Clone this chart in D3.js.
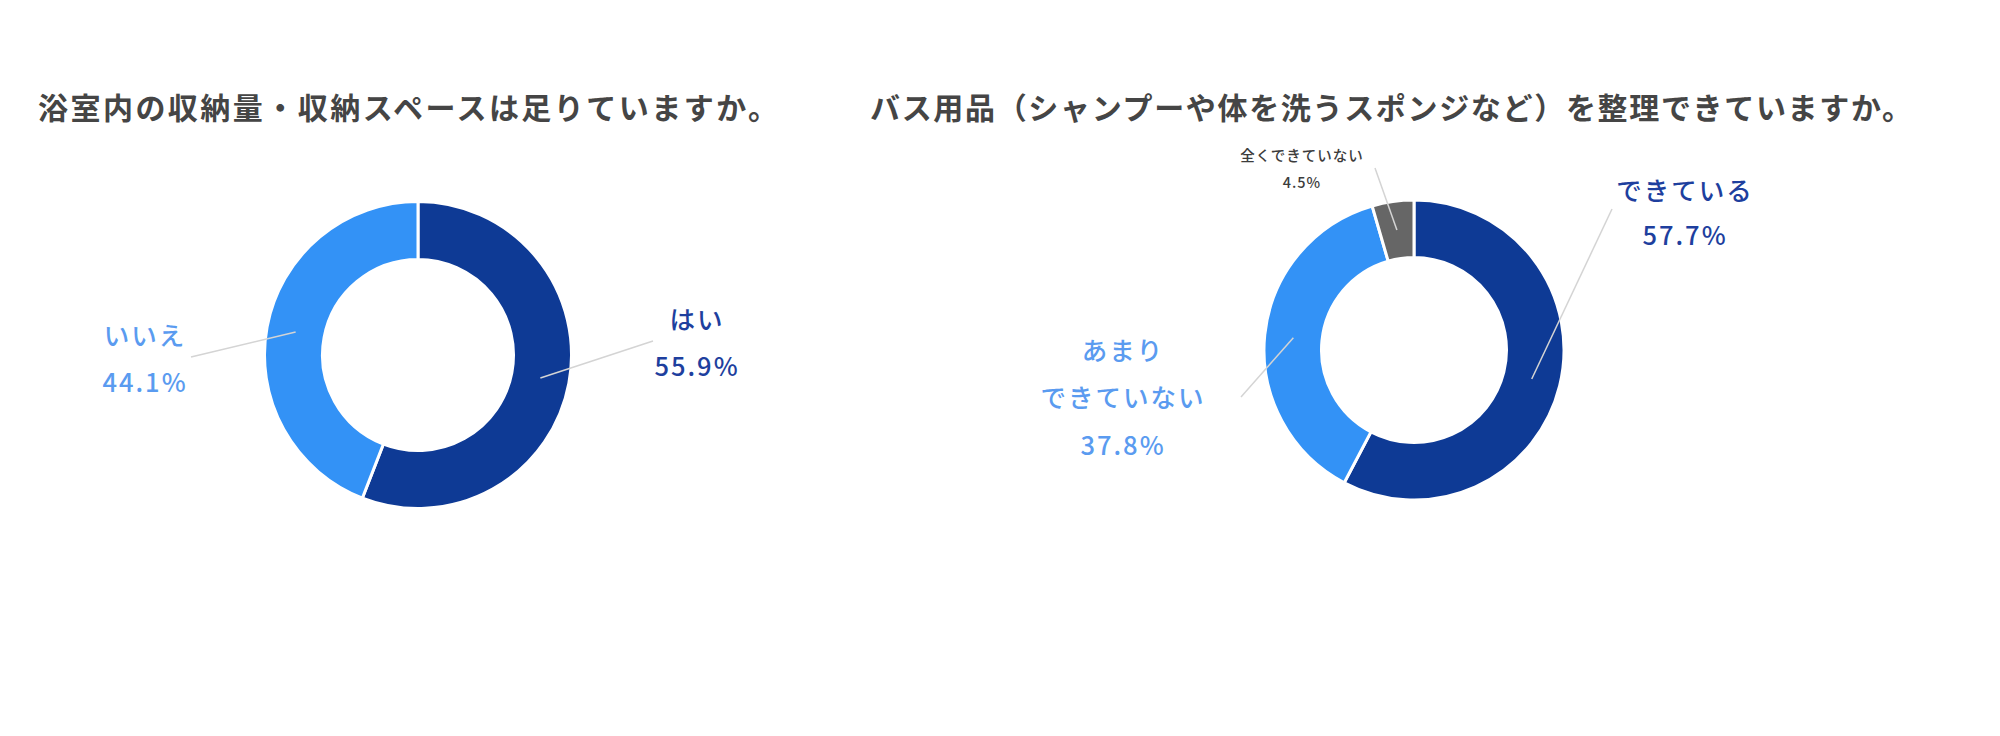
<!DOCTYPE html>
<html>
<head>
<meta charset="utf-8">
<style>
  body { margin: 0; background: #ffffff; font-family: "Noto Sans CJK JP", "Noto Sans", sans-serif; }
  svg { display: block; }
  .title { font-weight: bold; fill: #454545; font-size: 30px; }
  .lead { stroke: #d4d4d4; stroke-width: 1.5; fill: none; }
</style>
<script src="https://cdnjs.cloudflare.com/ajax/libs/d3/7.8.5/d3.min.js"></script>
</head>
<body>
<svg id="chart"></svg>
<script>
// ---- data ----
const titles = [
  "浴室内の収納量・収納スペースは足りていますか。",
  "バス用品（シャンプーや体を洗うスポンジなど）を整理できていますか。"
];
const storageLabels = ["はい", "いいえ"];
const storageValues = [55.9, 44.1];
const organizeLabels = ["できている", "あまり\nできていない", "全くできていない"];
const organizeValues = [57.7, 37.8, 4.5];

const sliceColors = ["#0e3a95", "#3392f6", "#666666"];
const textColors = ["#1e3f9e", "#5a9bf0", "#3c3c3c"];

// ---- layout (not data) ----
const width = 2000, height = 736;
const svg = d3.select("#chart").attr("width", width).attr("height", height);

const charts = [
  {
    title: titles[0], titleX: 38, titleLen: 740,
    labels: storageLabels, values: storageValues,
    cx: 418, cy: 355, outer: 153.5, inner: 95.5,
    // leader end offsets from centre, text block offsets from leader end
    place: [
      { ex: 235, ey: -14, tx: 44, ty: -24, gap: 47, size: 25.5 },
      { ex: -227, ey: 2, tx: -46, ty: -24, gap: 47, size: 25.5 }
    ]
  },
  {
    title: titles[1], titleX: 870, titleLen: 1042,
    labels: organizeLabels, values: organizeValues,
    cx: 1414, cy: 350, outer: 150, inner: 92.5,
    place: [
      { ex: 198, ey: -141, tx: 73, ty: -21, gap: 45, size: 25.5 },
      { ex: -173, ey: 47, tx: -118, ty: -49, gap: 47.5, size: 25.5 },
      { ex: -39, ey: -182, tx: -73, ty: -14, gap: 27, size: 14.5 }
    ]
  }
];

charts.forEach(function(c) {
  svg.append("text")
    .attr("class", "title")
    .attr("x", c.titleX)
    .attr("y", 106)
    .attr("dominant-baseline", "central")
    .attr("textLength", c.titleLen)
    .attr("lengthAdjust", "spacing")
    .text(c.title);

  const slices = c.labels.map((l, i) => ({ label: l, value: c.values[i], i: i }));
  const pie = d3.pie().sort(null).value(d => d.value);
  const arc = d3.arc().innerRadius(c.inner).outerRadius(c.outer);
  const arcs = pie(slices);

  const g = svg.append("g").attr("transform", "translate(" + c.cx + "," + c.cy + ")");

  g.selectAll("path.slice")
    .data(arcs)
    .enter().append("path")
    .attr("class", "slice")
    .attr("d", arc)
    .attr("fill", d => sliceColors[d.data.i])
    .attr("stroke", "#ffffff")
    .attr("stroke-width", 3);

  // leader lines from the middle of each ring segment
  g.selectAll("line.lead")
    .data(arcs)
    .enter().append("line")
    .attr("class", "lead")
    .attr("x1", d => arc.centroid(d)[0])
    .attr("y1", d => arc.centroid(d)[1])
    .attr("x2", d => c.place[d.data.i].ex)
    .attr("y2", d => c.place[d.data.i].ey);

  arcs.forEach(function(d) {
    const p = c.place[d.data.i];
    const lines = d.data.label.split("\n").concat([d3.format(".1f")(d.data.value) + "%"]);
    const t = g.append("text")
      .attr("text-anchor", "middle")
      .attr("fill", textColors[d.data.i])
      .attr("font-size", p.size + "px")
      .attr("font-weight", 500)
      .style("letter-spacing", d.data.i === 2 ? "1px" : "2px");
    lines.forEach(function(s, k) {
      t.append("tspan")
        .attr("x", p.ex + p.tx)
        .attr("y", p.ey + p.ty + k * p.gap)
        .attr("dominant-baseline", "central")
        .text(s);
    });
  });
});
</script>
</body>
</html>
